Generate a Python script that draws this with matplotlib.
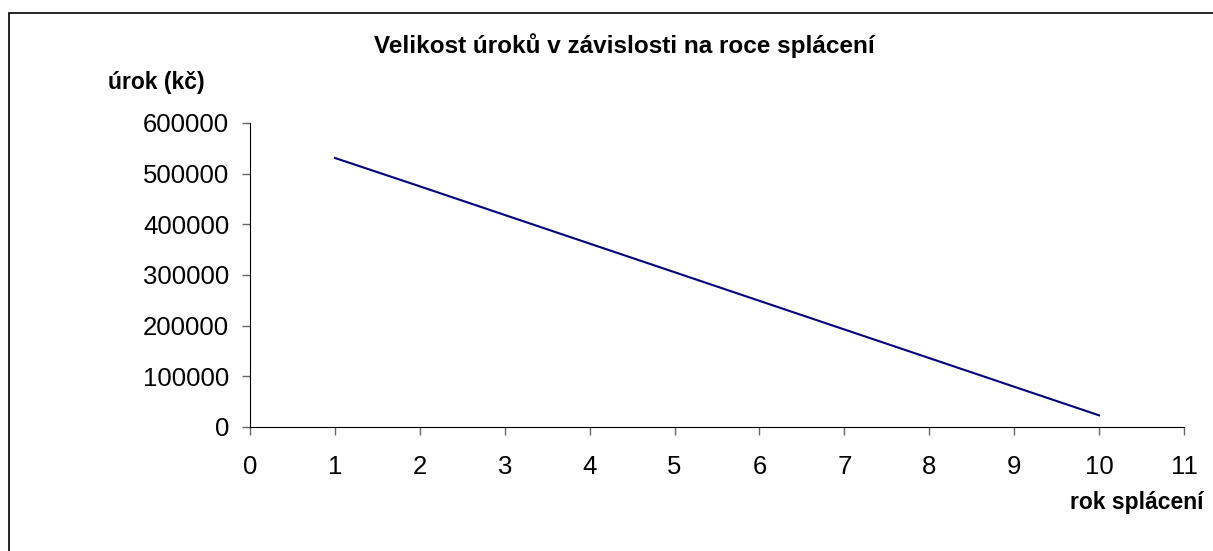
import matplotlib.pyplot as plt
from matplotlib.patches import Rectangle

roky = [1, 2, 3, 4, 5, 6, 7, 8, 9, 10]
urok = [531000, 475000, 418500, 362000, 305500, 249000, 192500, 136000, 79500, 23000]

plt.rcParams['font.family'] = ['Liberation Sans', 'DejaVu Sans']

W, H = 1213, 551
fig = plt.figure(figsize=(W / 100, H / 100), dpi=100)
ax = fig.add_axes([250 / W, (H - 427) / H, (1184 - 250) / W, (427 - 123) / H])

ax.plot(roky, urok, color='#000080', linewidth=1.5)

ax.set_xlim(0, 11)
ax.set_ylim(0, 600000)
ax.set_xticks(range(0, 12))
ax.set_yticks(range(0, 600001, 100000))
ax.spines['top'].set_visible(False)
ax.spines['right'].set_visible(False)
ax.tick_params(axis='both', direction='out', length=6, width=1, color='#666666',
               labelsize=18.5)
ax.tick_params(axis='x', pad=14)
ax.tick_params(axis='y', pad=9)

fig.text(624 / W, 1 - 46 / H, 'Velikost úroků v závislosti na roce splácení',
         ha='center', va='center', fontsize=17.5, fontweight='bold')
fig.text(156 / W, 1 - 83 / H, 'úrok (kč)', ha='center', va='center',
         fontsize=16.5, fontweight='bold')
fig.text(1203 / W, 1 - 503 / H, 'rok splácení', ha='right', va='center',
         fontsize=16.5, fontweight='bold')

# rámeček kolem grafu (pravý a spodní okraj jsou oříznuté)
fig.patches.append(Rectangle((9 / W, -0.2), 1.1, 1.2 - 13 / H,
                             transform=fig.transFigure, fill=False,
                             edgecolor='black', linewidth=1.2))

fig.savefig('out.png', dpi=100)
